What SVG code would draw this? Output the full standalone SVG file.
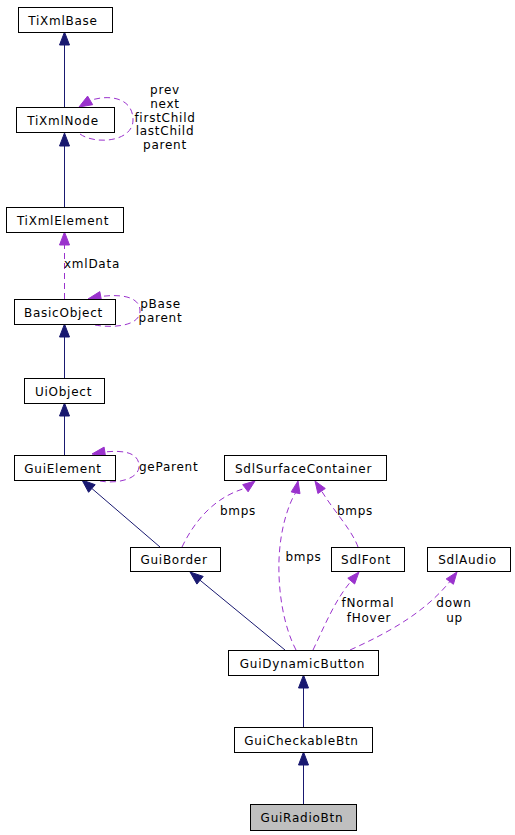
<svg xmlns="http://www.w3.org/2000/svg" width="515" height="835" viewBox="0 0 515 835">
<style>
  .node rect { fill: #ffffff; stroke: #000000; stroke-width: 1; }
  .node.cur rect { fill: #bfbfbf; }
  text { font-family: "DejaVu Sans", "Liberation Sans", sans-serif; font-size: 12px; letter-spacing: 0.75px; fill: #000000; }
  .nt { text-anchor: middle; }
  .inh { fill: none; stroke: #191970; stroke-width: 1; }
  .inhh { fill: #191970; stroke: #191970; stroke-width: 1; }
  .use { fill: none; stroke: #9a32cd; stroke-width: 1; stroke-dasharray: 6,4; }
  .useh { fill: #9a32cd; stroke: #9a32cd; stroke-width: 1; }
  .lbl { text-anchor: middle; }
</style>
<rect x="0" y="0" width="515" height="835" fill="#ffffff"/>
<g id="connectors">
  <!-- TiXmlNode -> TiXmlBase -->
  <line class="inh" x1="64.5" y1="107" x2="64.5" y2="45"/>
  <polygon class="inhh" points="64.5,32 59.5,45 69.5,45"/>
  <!-- TiXmlNode self loop -->
  <path class="use" d="M80,134 C95,145 133,142 133,120 C133,98 110,94 90.2,100.4"/>
  <polygon class="useh" points="79,107 92.7,104.7 87.6,96.1"/>
  <text class="lbl" x="165" y="94.3">prev</text>
  <text class="lbl" x="165" y="108">next</text>
  <text class="lbl" x="165" y="121.7">firstChild</text>
  <text class="lbl" x="165" y="135.4">lastChild</text>
  <text class="lbl" x="165" y="149.1">parent</text>
  <!-- TiXmlElement -> TiXmlNode -->
  <line class="inh" x1="64.5" y1="207" x2="64.5" y2="146"/>
  <polygon class="inhh" points="64.5,133 59.5,146 69.5,146"/>
  <!-- BasicObject -> TiXmlElement -->
  <line class="use" x1="64.5" y1="299" x2="64.5" y2="245"/>
  <polygon class="useh" points="64.5,232 59.5,245 69.5,245"/>
  <text x="64" y="268">xmlData</text>
  <!-- BasicObject self loop -->
  <path class="use" d="M95,325 C110,328 140,327 140,311 C140,296 120,294 100.7,296.5"/>
  <polygon class="useh" points="88,299 101.7,301.4 99.8,291.6"/>
  <text class="lbl" x="160.5" y="308">pBase</text>
  <text class="lbl" x="160.5" y="322">parent</text>
  <!-- UiObject -> BasicObject -->
  <line class="inh" x1="64.5" y1="378" x2="64.5" y2="337"/>
  <polygon class="inhh" points="64.5,324 59.5,337 69.5,337"/>
  <!-- GuiElement -> UiObject -->
  <line class="inh" x1="64.5" y1="455" x2="64.5" y2="416"/>
  <polygon class="inhh" points="64.5,403 59.5,416 69.5,416"/>
  <!-- GuiElement self loop -->
  <path class="use" d="M100,481 C115,484 139,480 139,466 C139,452 122,450 104.8,452"/>
  <polygon class="useh" points="92,454 105.6,456.9 104.1,447.1"/>
  <text x="139" y="471">geParent</text>
  <!-- GuiBorder -> GuiElement -->
  <line class="inh" x1="160" y1="547" x2="91.9" y2="488.5"/>
  <polygon class="inhh" points="82,480 88.6,492.3 95.2,484.7"/>
  <!-- GuiBorder -> SdlSurfaceContainer -->
  <path class="use" d="M182,547 C195,520 215,497 245.4,488.2"/>
  <polygon class="useh" points="255,481 248.1,491.8 242.7,484.6"/>
  <text class="lbl" x="238" y="515">bmps</text>
  <!-- GuiDynamicButton -> GuiBorder -->
  <line class="inh" x1="285" y1="650" x2="200" y2="580.2"/>
  <polygon class="inhh" points="190,572 196.9,584.1 203.2,576.4"/>
  <!-- GuiDynamicButton -> SdlSurfaceContainer -->
  <path class="use" d="M296,650 C283,625 278,590 279,560 C280,530 288,505 295.6,492.8"/>
  <polygon class="useh" points="298,481 300,493.7 291.2,491.9"/>
  <text class="lbl" x="303.5" y="561">bmps</text>
  <!-- SdlFont -> SdlSurfaceContainer -->
  <path class="use" d="M358,547 C352,530 333,510 321.6,491"/>
  <polygon class="useh" points="315,481 325.3,488.5 317.9,493.5"/>
  <text class="lbl" x="355" y="515">bmps</text>
  <!-- GuiDynamicButton -> SdlFont -->
  <path class="use" d="M313,650 C325,625 335,600 351.2,581.1"/>
  <polygon class="useh" points="359,572 354.6,584 347.8,578.2"/>
  <text class="lbl" x="368" y="607">fNormal</text>
  <text class="lbl" x="369" y="622">fHover</text>
  <!-- GuiDynamicButton -> SdlAudio -->
  <path class="use" d="M350,650 C390,632 425,612 449.8,581.6"/>
  <polygon class="useh" points="457,572 453.4,584.3 446.2,578.9"/>
  <text class="lbl" x="454" y="607">down</text>
  <text class="lbl" x="454.5" y="622">up</text>
  <!-- GuiCheckableBtn -> GuiDynamicButton -->
  <line class="inh" x1="303.5" y1="727" x2="303.5" y2="688"/>
  <polygon class="inhh" points="303.5,675 298.5,688 308.5,688"/>
  <!-- GuiRadioBtn -> GuiCheckableBtn -->
  <line class="inh" x1="303.5" y1="804" x2="303.5" y2="765"/>
  <polygon class="inhh" points="303.5,752 298.5,765 308.5,765"/>
</g>
<g id="TiXmlBase" class="node"><rect x="18.5" y="7.5" width="94" height="25"/><text class="nt" x="63" y="24.5">TiXmlBase</text></g>
<g id="TiXmlNode" class="node"><rect x="16.5" y="107.5" width="98" height="25"/><text class="nt" x="63" y="124.5">TiXmlNode</text></g>
<g id="TiXmlElement" class="node"><rect x="6.5" y="207.5" width="117" height="25"/><text class="nt" x="63" y="224.5">TiXmlElement</text></g>
<g id="BasicObject" class="node"><rect x="14.5" y="299.5" width="101" height="25"/><text class="nt" x="63.5" y="316.5">BasicObject</text></g>
<g id="UiObject" class="node"><rect x="24.5" y="378.5" width="80" height="25"/><text class="nt" x="63.5" y="395.5">UiObject</text></g>
<g id="GuiElement" class="node"><rect x="14.5" y="455.5" width="101" height="25"/><text class="nt" x="63" y="472.5">GuiElement</text></g>
<g id="SdlSurfaceContainer" class="node"><rect x="224.5" y="455.5" width="162" height="25"/><text class="nt" x="303.5" y="472.5">SdlSurfaceContainer</text></g>
<g id="GuiBorder" class="node"><rect x="130.5" y="547.5" width="90" height="24"/><text class="nt" x="174" y="564">GuiBorder</text></g>
<g id="SdlFont" class="node"><rect x="331.5" y="547.5" width="73" height="24"/><text class="nt" x="366" y="564">SdlFont</text></g>
<g id="SdlAudio" class="node"><rect x="427.5" y="547.5" width="83" height="24"/><text class="nt" x="467.5" y="564">SdlAudio</text></g>
<g id="GuiDynamicButton" class="node"><rect x="228.5" y="650.5" width="150" height="25"/><text class="nt" x="302.5" y="667.5">GuiDynamicButton</text></g>
<g id="GuiCheckableBtn" class="node"><rect x="234.5" y="727.5" width="138" height="25"/><text class="nt" x="301.5" y="744.5">GuiCheckableBtn</text></g>
<g id="GuiRadioBtn" class="node cur"><rect x="250.5" y="804.5" width="106" height="26"/><text class="nt" x="302" y="822">GuiRadioBtn</text></g>
</svg>
